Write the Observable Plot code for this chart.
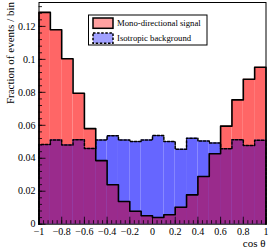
<!DOCTYPE html>
<html>
<head>
<meta charset="utf-8">
<script src="https://cdn.jsdelivr.net/npm/d3@7"></script>
<script src="https://cdn.jsdelivr.net/npm/@observablehq/plot@0.6"></script>
<style>
  html, body { margin: 0; padding: 0; background: #fff; }
</style>
</head>
<body>
<div id="chart"></div>
<script>
// Bin lower edges (bin width 0.1)
const binStart = [-1, -0.9, -0.8, -0.7, -0.6, -0.5, -0.4, -0.3, -0.2, -0.1,
                  0, 0.1, 0.2, 0.3, 0.4, 0.5, 0.6, 0.7, 0.8, 0.9];
const binWidth = 0.1;
// Mono-directional signal
const signal = [0.1285, 0.1180, 0.1004, 0.0794, 0.0580, 0.0386, 0.0239, 0.0138, 0.0079, 0.0051,
                0.0041, 0.0057, 0.0103, 0.0178, 0.0289, 0.0427, 0.0595, 0.0754, 0.0879, 0.0952];
// Isotropic background
const background = [0.0483, 0.0511, 0.0481, 0.0513, 0.0460, 0.0511, 0.0537, 0.0511, 0.0501, 0.0511,
                    0.0538, 0.0501, 0.0455, 0.0522, 0.0505, 0.0493, 0.0457, 0.0513, 0.0477, 0.0509];
// Tick labels
const xTicks = [-1, -0.8, -0.6, -0.4, -0.2, 0, 0.2, 0.4, 0.6, 0.8, 1];
const yTicks = [0, 0.02, 0.04, 0.06, 0.08, 0.1, 0.12];
const seriesNames = ["Mono-directional signal", "Isotropic background"];

const rows = binStart.map((x, i) => ({x1: x, x2: x + binWidth, s: signal[i], b: background[i]}));
const sigLine = [{x: -1, y: 0}, ...binStart.map((x, i) => ({x, y: signal[i]})), {x: 1, y: signal[signal.length - 1]}, {x: 1, y: 0}];
const bgLine = [{x: -1, y: 0}, ...binStart.map((x, i) => ({x, y: background[i]})), {x: 1, y: background[background.length - 1]}, {x: 1, y: 0}];

const xMinor = d3.range(0, 51).map(i => -1 + i * 0.04);
const yMinor = d3.range(0, 34).map(i => i * 0.004);

const W = 269, H = 252;
const mL = 38.5, mR = 3.5, mT = 2, mB = 28.3;
const plotW = W - mL - mR, plotH = H - mT - mB;

const chart = Plot.plot({
  width: W, height: H,
  marginLeft: mL, marginRight: mR, marginTop: mT, marginBottom: mB,
  style: {fontFamily: "Liberation Serif", fontSize: "10px", background: "#fff", overflow: "visible"},
  x: {domain: [-1, 1]},
  y: {domain: [0, 0.1345]},
  marks: [
    Plot.rectY(rows, {x1: "x1", x2: "x2", y: "s", fill: "#ff6666"}),
    Plot.rectY(rows, {x1: "x1", x2: "x2", y: "b", fill: "#6666ff"}),
    Plot.rectY(rows, {x1: "x1", x2: "x2", y: d => Math.min(d.s, d.b), fill: "#9a2b8c"}),
    Plot.line(bgLine, {x: "x", y: "y", curve: "step-after", stroke: "black", strokeWidth: 1.5, strokeDasharray: "2.5,1.6"}),
    Plot.line(sigLine, {x: "x", y: "y", curve: "step-after", stroke: "black", strokeWidth: 1.6}),
    Plot.frame({stroke: "black", strokeWidth: 1}),
    // inward ticks
    Plot.tickX(xMinor, {x: d => d, insetTop: plotH - 3.5, stroke: "black", strokeWidth: 0.8}),
    Plot.tickX(xTicks, {x: d => d, insetTop: plotH - 7, stroke: "black", strokeWidth: 0.8}),
    Plot.tickY(yMinor, {y: d => d, insetRight: plotW - 3.5, stroke: "black", strokeWidth: 0.8}),
    Plot.tickY(yTicks, {y: d => d, insetRight: plotW - 7, stroke: "black", strokeWidth: 0.8}),
    Plot.axisX({ticks: xTicks, tickSize: 0, tickPadding: 4, tickFormat: d3.format("~g"), label: null, fontSize: 10}),
    Plot.axisY({ticks: yTicks, tickSize: 0, tickPadding: 3.5, tickFormat: d3.format("~g"), label: null, fontSize: 10})
  ]
});

document.getElementById("chart").appendChild(chart);
const svg = d3.select(chart);

// axis titles
svg.append("text")
  .attr("transform", `translate(14,2) rotate(-90)`)
  .attr("text-anchor", "end")
  .attr("font-family", "Liberation Serif").attr("font-size", 11)
  .attr("fill", "black")
  .text("Fraction of events / bin");
svg.append("text")
  .attr("x", 265.5).attr("y", 247)
  .attr("text-anchor", "end")
  .attr("font-family", "Liberation Serif").attr("font-size", 11)
  .attr("fill", "black")
  .text("cos θ");

// legend
const lg = svg.append("g").attr("text-anchor", "start");
lg.append("rect").attr("x", 88.5).attr("y", 15).attr("width", 118.5).attr("height", 30)
  .attr("fill", "white").attr("stroke", "black").attr("stroke-width", 1);
lg.append("rect").attr("x", 93).attr("y", 18).attr("width", 20).attr("height", 10.3)
  .attr("fill", "#ffa0a0").attr("stroke", "black").attr("stroke-width", 1.5);
lg.append("rect").attr("x", 93).attr("y", 33).attr("width", 20).attr("height", 10.3)
  .attr("fill", "#a0a0ff").attr("stroke", "black").attr("stroke-width", 1.5).attr("stroke-dasharray", "2.5,1.6");
lg.append("text").attr("x", 117).attr("y", 26).attr("text-anchor", "start")
  .attr("font-family", "Liberation Serif").attr("font-size", 8.7)
  .attr("fill", "black").text(seriesNames[0]);
lg.append("text").attr("x", 117).attr("y", 40.5).attr("text-anchor", "start")
  .attr("font-family", "Liberation Serif").attr("font-size", 8.7)
  .attr("fill", "black").text(seriesNames[1]);
</script>
</body>
</html>
